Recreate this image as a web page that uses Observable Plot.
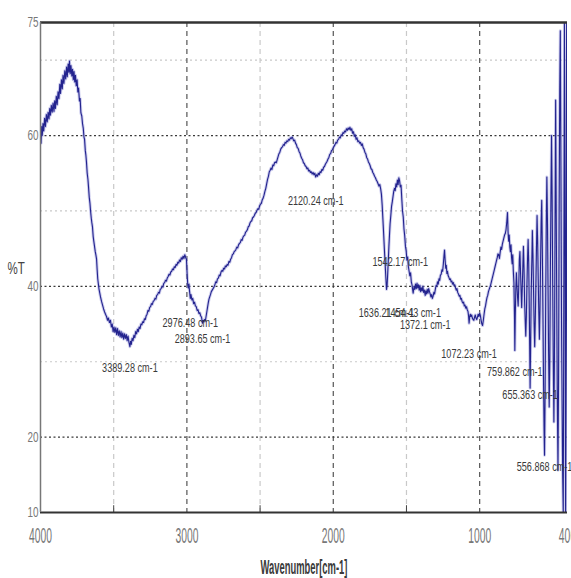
<!DOCTYPE html>
<html>
<head>
<meta charset="utf-8">
<script src="https://cdn.jsdelivr.net/npm/d3@7"></script>
<script src="https://cdn.jsdelivr.net/npm/@observablehq/plot@0.6"></script>
<style>
  html, body { margin: 0; padding: 0; background: #fff; }
  #chart { width: 571px; height: 578px; overflow: hidden; }
</style>
</head>
<body>
<div id="chart"></div>
<script>
// FTIR transmission spectrum: [wavenumber (cm-1), %T]
const spectrum = [
  [4000,60.3],[3996,59.0],[3992,61.2],[3988,60.0],[3983,61.6],[3978,60.6],[3972,62.3],[3966,61.2],[3960,62.8],[3954,61.8],
  [3948,63.1],[3942,62.2],[3937,63.6],[3932,62.7],[3926,64.0],[3920,63.1],[3914,64.3],[3908,63.2],[3903,64.6],[3898,63.6],
  [3892,65.2],[3886,64.1],[3880,65.8],[3874,64.9],[3868,66.8],[3863,65.6],[3857,67.4],[3851,66.2],[3846,68.0],[3840,66.9],
  [3834,68.6],[3828,67.5],[3822,69.1],[3817,67.8],[3811,69.5],[3806,68.4],[3802,69.9],[3797,68.2],[3792,69.3],[3786,67.9],
  [3781,68.8],[3776,67.4],[3771,68.5],[3766,67.1],[3761,68.0],[3756,66.6],[3750,67.4],[3745,65.8],[3740,66.3],[3734,64.6],
  [3729,64.9],[3724,63.0],[3718,62.6],[3713,61.6],[3708,61.0],[3703,59.8],[3699,59.5],[3694,58.0],[3690,57.4],[3686,56.5],
  [3681,55.0],[3676,54.2],[3672,53.2],[3667,51.8],[3662,51.0],[3658,50.0],[3653,49.0],[3649,48.4],[3645,47.9],[3640,46.6],
  [3636,46.0],[3631,45.3],[3626,44.6],[3622,44.2],[3617,43.6],[3613,42.2],[3609,41.0],[3604,40.2],[3600,39.6],[3597,39.3],
  [3590,38.6],[3583,38.0],[3576,37.5],[3569,37.0],[3562,36.6],[3556,36.3],[3549,36.0],[3542,35.5],[3536,35.8],[3529,35.2],
  [3522,35.5],[3516,34.6],[3510,35.0],[3504,34.0],[3498,34.6],[3492,33.9],[3486,34.5],[3480,33.6],[3474,34.4],[3468,33.5],
  [3462,34.1],[3456,33.3],[3450,34.0],[3444,33.2],[3438,33.8],[3432,33.0],[3426,33.7],[3420,33.1],[3414,33.6],[3408,32.8],
  [3402,33.4],[3396,32.6],[3389.28,32.0],[3385,32.7],[3380,32.3],[3374,33.1],[3368,32.8],[3362,33.5],[3356,33.2],[3350,34.0],
  [3344,33.7],[3338,34.3],[3332,34.0],[3326,34.6],[3320,34.4],[3314,35.0],[3308,34.9],[3302,35.3],[3296,35.2],[3290,35.7],
  [3284,35.6],[3278,36.1],[3272,36.3],[3266,36.8],[3260,36.7],[3254,37.2],[3248,37.3],[3242,37.7],[3236,37.6],[3230,38.0],
  [3224,38.1],[3218,38.4],[3212,38.3],[3206,38.8],[3200,38.9],[3194,39.2],[3188,39.1],[3182,39.6],[3176,39.7],[3170,40.0],
  [3164,39.9],[3158,40.4],[3152,40.5],[3146,40.8],[3140,40.7],[3134,41.1],[3128,41.3],[3122,41.6],[3116,41.5],[3110,41.9],
  [3104,42.0],[3098,42.3],[3092,42.2],[3086,42.6],[3080,42.5],[3074,42.9],[3068,42.8],[3062,43.2],[3056,43.1],[3050,43.5],
  [3044,43.3],[3038,43.8],[3032,43.6],[3026,44.0],[3020,43.7],[3014,44.2],[3008,43.8],[3003,43.6],[2998,41.5],[2994,40.2],
  [2990,39.8],[2986,40.3],[2982,39.4],[2976.48,38.4],[2972,38.9],[2966,38.2],[2960,38.4],[2954,37.7],[2948,37.9],[2942,37.4],
  [2936,37.3],[2930,36.8],[2924,36.9],[2918,36.4],[2912,36.5],[2906,36.1],[2900,35.9],[2893.65,35.1],[2889,35.5],[2884,35.3],
  [2879,35.6],[2874,35.4],[2869,36.0],[2864,36.6],[2859,37.2],[2854,37.8],[2849,38.3],[2844,38.6],[2839,38.9],[2833,39.3],
  [2827,39.5],[2821,39.7],[2815,39.9],[2809,40.2],[2803,40.6],[2797,40.5],[2791,41.0],[2785,41.1],[2779,41.5],[2773,41.4],
  [2767,41.9],[2761,42.1],[2755,42.0],[2749,42.4],[2743,42.3],[2737,42.7],[2731,42.6],[2725,42.9],[2719,42.8],[2713,43.3],
  [2707,43.2],[2701,43.6],[2695,43.8],[2689,44.2],[2683,44.3],[2677,44.6],[2671,44.7],[2665,44.9],[2659,45.2],[2653,45.1],
  [2647,45.5],[2641,45.7],[2635,45.8],[2629,46.2],[2623,46.1],[2617,46.5],[2611,46.7],[2605,46.8],[2599,47.2],[2593,47.3],
  [2587,47.5],[2581,47.9],[2575,48.0],[2569,48.4],[2563,48.6],[2557,48.7],[2551,49.1],[2545,49.2],[2539,49.4],[2533,49.7],
  [2527,49.8],[2521,50.1],[2515,50.3],[2509,50.2],[2503,50.7],[2497,50.9],[2491,51.0],[2485,51.5],[2479,51.7],[2473,52.1],
  [2467,52.6],[2461,53.0],[2455,53.6],[2449,54.2],[2443,54.6],[2437,55.2],[2431,55.4],[2425,55.7],[2419,55.5],[2413,56.1],
  [2407,56.0],[2401,56.4],[2395,56.5],[2389,56.4],[2383,56.8],[2377,57.2],[2371,57.6],[2365,57.8],[2359,58.2],[2353,58.4],
  [2347,58.5],[2341,58.8],[2335,58.7],[2329,59.1],[2323,59.0],[2317,59.3],[2311,59.2],[2305,59.5],[2299,59.4],[2293,59.7],
  [2287,59.6],[2281,59.8],[2276,59.6],[2270,59.3],[2264,59.4],[2258,59.0],[2252,58.8],[2246,58.4],[2240,58.3],[2234,57.9],
  [2228,57.7],[2222,57.3],[2216,57.0],[2210,56.8],[2204,56.4],[2198,56.3],[2192,56.0],[2186,55.9],[2180,55.6],[2174,55.7],
  [2168,55.3],[2162,55.4],[2156,55.1],[2150,55.2],[2144,54.9],[2138,55.1],[2132,54.8],[2126,55.0],[2120.24,54.5],[2114,54.8],
  [2108,54.6],[2102,55.0],[2096,54.8],[2090,55.2],[2084,55.1],[2078,55.5],[2072,55.4],[2066,55.8],[2060,55.9],[2054,56.2],
  [2048,56.4],[2042,56.6],[2036,56.9],[2030,57.1],[2024,57.5],[2018,57.6],[2012,58.0],[2006,58.1],[2000,58.4],[1994,58.6],
  [1988,58.8],[1982,59.1],[1976,59.0],[1970,59.4],[1964,59.5],[1958,59.8],[1952,59.7],[1946,60.1],[1940,60.0],[1934,60.4],
  [1928,60.3],[1922,60.6],[1916,60.5],[1910,60.9],[1904,60.7],[1898,61.0],[1892,60.8],[1886,61.1],[1880,60.7],[1874,60.9],
  [1868,60.3],[1862,60.5],[1856,59.9],[1850,60.1],[1844,59.5],[1838,59.7],[1832,59.2],[1826,59.3],[1820,59.0],[1814,59.1],
  [1808,58.7],[1802,58.9],[1796,58.4],[1790,58.2],[1784,57.8],[1778,57.6],[1772,57.1],[1766,56.9],[1760,56.5],[1754,56.3],
  [1748,56.0],[1742,55.6],[1736,55.5],[1730,55.1],[1724,54.9],[1718,54.6],[1712,54.4],[1706,54.1],[1700,53.9],[1694,53.6],
  [1688,53.3],[1682,53.5],[1676,52.9],[1671,52.2],[1666,50.8],[1661,48.9],[1656,47.0],[1651,45.0],[1646,43.1],[1641,41.2],
  [1636.21,39.6],[1632,40.2],[1628,41.8],[1624,43.5],[1620,45.3],[1616,46.8],[1612,48.3],[1607,49.4],[1602,50.6],[1597,51.2],
  [1592,51.9],[1587,52.6],[1582,53.0],[1577,52.7],[1572,53.6],[1567,53.2],[1562,54.1],[1557,53.5],[1552,54.4],[1547,54.0],
  [1542.17,53.2],[1537,53.4],[1532,51.6],[1527,50.0],[1522,49.2],[1517,47.6],[1512,46.7],[1507,45.3],[1502,44.7],[1497,43.5],
  [1492,43.9],[1487,42.6],[1482,42.0],[1477,41.4],[1472,41.8],[1467,40.6],[1462,40.2],[1458,39.6],[1454.43,39.1],[1448,40.0],
  [1443,39.6],[1438,40.3],[1433,39.7],[1428,40.4],[1423,39.8],[1418,40.2],[1413,39.5],[1408,40.1],[1403,39.3],[1398,39.8],
  [1393,39.4],[1388,40.0],[1383,39.2],[1378,39.5],[1372.1,38.8],[1368,39.4],[1363,39.0],[1358,39.6],[1353,39.1],[1348,39.7],
  [1343,39.3],[1338,39.0],[1333,38.6],[1328,38.9],[1323,38.4],[1318,38.7],[1313,39.2],[1308,39.0],[1303,39.6],[1298,40.1],
  [1293,40.0],[1288,40.6],[1283,40.3],[1278,41.0],[1273,40.8],[1268,41.5],[1263,41.6],[1258,42.2],[1253,42.0],[1248,43.0],
  [1244,44.0],[1240,44.8],[1236,43.5],[1232,42.4],[1228,42.8],[1224,41.7],[1220,42.0],[1215,41.4],[1210,41.2],[1205,40.9],
  [1200,41.0],[1195,40.6],[1190,40.7],[1185,40.3],[1180,40.5],[1175,40.1],[1170,40.2],[1165,39.8],[1160,39.5],[1155,39.7],
  [1150,39.2],[1145,39.0],[1140,38.7],[1135,38.8],[1130,38.3],[1125,38.4],[1120,38.0],[1115,37.8],[1110,37.9],[1105,37.4],
  [1100,37.5],[1095,37.1],[1090,37.3],[1085,36.9],[1080,36.7],[1076,36.1],[1072.23,35.1],[1068,36.0],[1064,36.3],[1060,36.0],
  [1055,36.2],[1050,35.8],[1045,35.6],[1040,35.5],[1035,35.9],[1030,36.2],[1025,35.8],[1020,35.6],[1015,35.9],[1010,36.3],
  [1005,36.0],[1000,36.4],[995,36.1],[990,35.5],[985,35.0],[980,34.8],[975,35.5],[970,36.3],[965,37.0],[960,37.4],
  [955,38.0],[950,38.5],[945,38.8],[940,39.3],[935,39.6],[930,39.9],[925,40.2],[920,40.6],[915,41.0],[910,41.4],
  [905,41.8],[900,42.2],[895,42.6],[890,43.0],[885,43.4],[880,43.8],[875,44.3],[870,44.2],[865,43.7],[860,44.5],
  [855,45.2],[850,44.9],[845,45.6],[840,46.0],[835,46.4],[830,46.8],[825,47.0],[820,47.5],[815,48.5],[810,49.8],
  [806,47.2],[802,46.0],[798,46.8],[794,45.2],[790,44.6],[786,45.5],[782,43.8],[778,43.0],[774,44.2],[770,42.0],
  [766,40.5],[762,36.0],[759.862,31.5],[757,35.8],[753,39.6],[749,41.8],[745,40.0],[741,38.5],[737,37.4],[733,40.0],
  [729,43.5],[725,44.6],[721,42.0],[717,39.5],[713,37.2],[709,39.8],[705,42.6],[701,45.3],[697,42.4],[693,38.0],
  [689,35.6],[685,33.4],[681,36.0],[677,40.2],[673,43.6],[669,46.2],[665,43.0],[661,37.0],[658,31.5],[655.363,26.5],
  [652,32.0],[648,39.0],[644,43.0],[640,47.4],[636,44.2],[632,39.5],[628,35.0],[624,32.0],[620,35.5],[616,40.0],
  [612,45.0],[608,49.4],[604,46.0],[600,41.0],[596,36.5],[592,33.0],[588,37.0],[584,43.0],[580,48.5],[576,51.4],
  [572,45.0],[568,37.0],[564,28.0],[560,21.0],[556.868,17.6],[553,26.0],[549,38.0],[545,48.0],[541,54.5],[537,49.0],
  [533,40.0],[529,31.0],[525,24.0],[521,30.0],[517,42.0],[513,52.0],[509,60.0],[505,52.0],[501,40.0],[497,30.0],
  [493,22.0],[489,31.0],[485,48.0],[481,64.7],[477,50.0],[473,36.0],[469,24.0],[465,15.6],[461,28.0],[457,50.0],
  [453,66.0],[449,73.9],[445,56.0],[441,36.0],[437,24.9],[433,15.0],[429,10.0],[425,40.0],[421,75.0],[417,45.0],
  [413,10.0],[409,55.0],[406,75.0],[403,35.0],[400,10.0]
];

// Annotated band positions and the %T level at which each tag is written
const peakWavenumbers = [3389.28, 2976.48, 2893.65, 2120.24, 1542.17, 1636.21, 1454.43, 1372.1, 1072.23, 759.862, 655.363, 556.868];
const peakTags = ["3389.28 cm-1", "2976.48 cm-1", "2893.65 cm-1", "2120.24 cm-1", "1542.17 cm-1", "1636.21 cm-1",
                  "1454.43 cm-1", "1372.1 cm-1", "1072.23 cm-1", "759.862 cm-1", "655.363 cm-1", "556.868 cm-1"];
const tagLevels = [29.2, 35.2, 33.1, 51.4, 43.2, 36.5, 36.5, 34.9, 31.1, 28.6, 25.6, 16.0];

// Axis ticks and grid lines
const xTicks = [4000, 3000, 2000, 1000, 400];
const yTicks = [10, 20, 40, 60, 75];
const xMajorGrid = [3000, 2000, 1000];
const xMinorGrid = [3500, 2500, 1500];
const yMajorGrid = [60, 40, 20];
const yMinorGrid = [70, 50, 30];

const font = "'Liberation Sans', Arial, sans-serif";

const chart = Plot.plot({
  width: 571,
  height: 578,
  marginLeft: 40,
  marginRight: 4,
  marginTop: 22,
  marginBottom: 66,
  style: { fontFamily: font, background: "#fff", color: "#555", overflow: "hidden" },
  x: { domain: [4000, 400], label: null },
  y: { domain: [10, 75], label: null },
  marks: [
    Plot.ruleX(xMinorGrid, { stroke: "#c9c9c9", strokeDasharray: "5,4", strokeWidth: 1.2 }),
    Plot.ruleY(yMinorGrid, { stroke: "#c9c9c9", strokeDasharray: "2,3", strokeWidth: 1.2 }),
    Plot.ruleX(xMajorGrid, { stroke: "#555", strokeDasharray: "5,4", strokeWidth: 1.2 }),
    Plot.ruleY(yMajorGrid, { stroke: "#3a3a3a", strokeDasharray: "2,2.5", strokeWidth: 1.3 }),
    Plot.ruleX(xMinorGrid, { y1: 10, y2: 10.9, stroke: "#444" }),
    // spectrum with a soft halo
    Plot.line(spectrum, { x: d => d[0], y: d => d[1], stroke: "#8f8fd6", strokeWidth: 3, strokeOpacity: 0.45, clip: true }),
    Plot.line(spectrum, { x: d => d[0], y: d => d[1], stroke: "#23238e", strokeWidth: 1.1, clip: true }),
    // frame
    Plot.ruleY([75], { stroke: "#333", strokeWidth: 2.5 }),
    Plot.ruleY([10], { stroke: "#333", strokeWidth: 2 }),
    Plot.ruleX([4000], { stroke: "#777", strokeWidth: 1.5 }),
    // axes
    Plot.axisX({ ticks: xTicks, tickFormat: d => String(d), tickSize: 0, tickPadding: 15, fontSize: 22, fill: "#777" }),
    Plot.axisY({ ticks: yTicks, tickFormat: d => String(d), tickSize: 0, tickPadding: 2, fontSize: 15, fill: "#777" }),
    Plot.text(["Wavenumber[cm-1]"], { frameAnchor: "bottom", lineAnchor: "middle", dy: 55, fontSize: 20, fontWeight: "bold", fill: "#3a3a3a" }),
    Plot.text(["%T"], { frameAnchor: "left", textAnchor: "start", lineAnchor: "middle", dx: -33, dy: 1, fontSize: 16, fill: "#444" }),
    // band annotations
    Plot.text(peakWavenumbers, { x: d => d, y: (d, i) => tagLevels[i], text: (d, i) => peakTags[i], fontSize: 13, fill: "#3a3a3a" })
  ]
});

document.getElementById("chart").appendChild(chart);

// narrow the lettering horizontally; the squeeze depends on the text group's font size
const squeeze = { "22": 0.47, "15": 0.66, "20": 0.47, "16": 0.72, "13": 0.7 };
chart.querySelectorAll("text").forEach(t => {
  const g = t.closest("g[font-size]");
  const size = g ? String(parseFloat(g.getAttribute("font-size"))) : null;
  const k = squeeze[size];
  if (!k) return;
  const len = t.getComputedTextLength();
  if (len > 0) {
    t.setAttribute("textLength", (len * k).toFixed(1));
    t.setAttribute("lengthAdjust", "spacingAndGlyphs");
  }
});
</script>
</body>
</html>
